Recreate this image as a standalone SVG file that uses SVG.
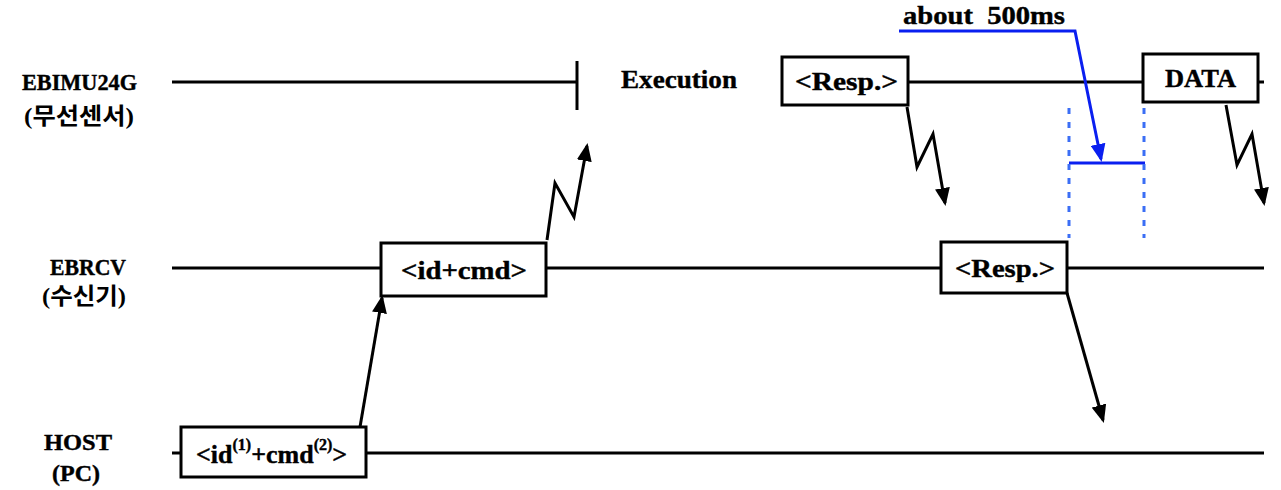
<svg xmlns="http://www.w3.org/2000/svg" width="1281" height="490" viewBox="0 0 1281 490">
<style>
.t{font-family:"Liberation Serif","Times New Roman",serif;font-weight:bold;font-size:23px;fill:#000;stroke:#000;stroke-width:0.4}
.b{font-family:"Liberation Serif","Times New Roman",serif;font-weight:bold;font-size:26px;fill:#000;stroke:#000;stroke-width:0.4}
.k{font-family:"Liberation Serif","Noto Sans CJK KR",serif;font-weight:bold;font-size:23px;fill:#000}
.ln{stroke:#000;stroke-width:3;fill:none}
.bx{stroke:#000;stroke-width:3;fill:#fff}
.ar{stroke:#000;stroke-width:3;fill:none;marker-end:url(#ah)}
.bl{stroke:#0a1ff0;stroke-width:3;fill:none}
.dt{stroke:#3b6ef5;stroke-width:3;fill:none;stroke-dasharray:6 8}
</style>
<defs>
<marker id="ah" markerWidth="6" markerHeight="5" refX="5" refY="2.5" orient="auto" markerUnits="strokeWidth">
<path d="M0,0 L6,2.5 L0,5 z" fill="#000"/>
</marker>
<marker id="ahb" markerWidth="6" markerHeight="5" refX="5" refY="2.5" orient="auto" markerUnits="strokeWidth">
<path d="M0,0 L6,2.5 L0,5 z" fill="#0a1ff0"/>
</marker>
</defs>

<g id="labels">
<text class="t" x="22" y="90" textLength="115" lengthAdjust="spacingAndGlyphs">EBIMU24G</text>
<text class="k" x="24" y="124" textLength="110" lengthAdjust="spacingAndGlyphs">(무선센서)</text>
<text class="t" x="50" y="275" textLength="76" lengthAdjust="spacingAndGlyphs">EBRCV</text>
<text class="k" x="42" y="304" textLength="84" lengthAdjust="spacingAndGlyphs">(수신기)</text>
<text class="t" x="44" y="450" textLength="68" lengthAdjust="spacingAndGlyphs">HOST</text>
<text class="t" x="52" y="481" textLength="48" lengthAdjust="spacingAndGlyphs">(PC)</text>
</g>

<g id="timelines">
<line class="ln" x1="172" y1="82" x2="577" y2="82"/>
<line class="ln" x1="577" y1="61" x2="577" y2="110"/>
<line class="ln" x1="908" y1="82" x2="1143" y2="82"/>
<line class="ln" x1="1258" y1="82" x2="1264" y2="82"/>
<line class="ln" x1="172" y1="268" x2="381" y2="268"/>
<line class="ln" x1="546" y1="268" x2="941" y2="268"/>
<line class="ln" x1="1067" y1="268" x2="1264" y2="268"/>
<line class="ln" x1="172" y1="453" x2="181" y2="453"/>
<line class="ln" x1="366" y1="453" x2="1264" y2="453"/>
</g>

<g id="execution">
<text class="b" x="621" y="88" font-size="27" textLength="116" lengthAdjust="spacingAndGlyphs">Execution</text>
</g>

<g id="resp1">
<rect class="bx" x="782" y="57" width="126" height="48"/>
<text class="b" x="795" y="90" textLength="103" lengthAdjust="spacingAndGlyphs">&lt;Resp.&gt;</text>
</g>

<g id="data">
<rect class="bx" x="1143" y="54" width="115" height="48"/>
<text class="b" x="1165" y="87" textLength="71" lengthAdjust="spacingAndGlyphs">DATA</text>
</g>

<g id="idcmd">
<rect class="bx" x="381" y="243" width="165" height="53"/>
<text class="b" x="401" y="279" textLength="126" lengthAdjust="spacingAndGlyphs">&lt;id+cmd&gt;</text>
</g>

<g id="resp2">
<rect class="bx" x="941" y="242" width="126" height="51"/>
<text class="b" x="955" y="277" textLength="100" lengthAdjust="spacingAndGlyphs">&lt;Resp.&gt;</text>
</g>

<g id="host">
<rect class="bx" x="181" y="427" width="185" height="50"/>
<text class="b" x="196" y="463">&lt;id<tspan font-size="16" dy="-13">(1)</tspan><tspan dy="13">+cmd</tspan><tspan font-size="16" dy="-13">(2)</tspan><tspan dy="13">&gt;</tspan></text>
</g>

<g id="connectors">
<path class="ar" d="M360,427 L382,298"/>
<path class="ar" d="M547,240 L555,183 L574,217 L587,146"/>
<path class="ar" d="M907,107 L917,167 L933,134 L945,203"/>
<path class="ar" d="M1226,105 L1237,165 L1252,134 L1264,203"/>
<path class="ar" d="M1067,293 L1103,420"/>
</g>

<g id="timing">
<text class="b" x="903" y="24" font-size="24" textLength="162" lengthAdjust="spacingAndGlyphs" style="white-space:pre">about  500ms</text>
<path class="bl" d="M899,31 L1075,31 L1101,159" marker-end="url(#ahb)"/>
<line class="bl" x1="1069" y1="163" x2="1145" y2="163"/>
<line class="dt" x1="1069" y1="108" x2="1069" y2="238"/>
<line class="dt" x1="1144" y1="108" x2="1144" y2="238"/>
</g>
</svg>
